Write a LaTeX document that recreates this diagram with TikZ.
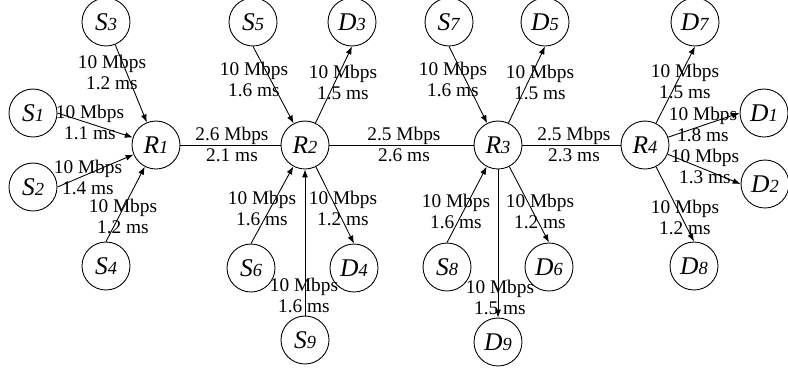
\documentclass[tikz,border=0pt]{standalone}
\usepackage{fontspec}
\setmainfont{Liberation Serif}
\usetikzlibrary{arrows.meta}
\newcommand{\nm}[2]{\textit{#1{\fontsize{10.5}{10.5}\selectfont #2}}}

\begin{document}
\begin{tikzpicture}[
  x=0.02cm, y=-0.02cm,
  station/.style={circle, draw, line width=0.5pt, minimum size=0.96cm, inner sep=0pt, font=\fontsize{14.5}{16}\selectfont},
  delay/.style={align=center, inner sep=0pt, font=\fontsize{11}{12}\selectfont},
  link/.style={line width=0.5pt},
  arrow/.style={-{Latex[length=4.5pt, width=3.4pt]}, line width=0.5pt}
]
\useasboundingbox (0,0) rectangle (788,373);

\node[station] (S3) at (106,22) {\nm{S}{3}};
\node[station] (S1) at (33,113) {\nm{S}{1}};
\node[station] (R1) at (156,145) {\nm{R}{1}};
\node[station] (S2) at (33,187) {\nm{S}{2}};
\node[station] (S4) at (106,266) {\nm{S}{4}};

\node[station] (S5) at (253,22) {\nm{S}{5}};
\node[station] (D3) at (352,22) {\nm{D}{3}};
\node[station] (R2) at (305,145) {\nm{R}{2}};
\node[station] (S6) at (251,268) {\nm{S}{6}};
\node[station] (D4) at (354,268) {\nm{D}{4}};
\node[station] (S9) at (305,340) {\nm{S}{9}};

\node[station] (S7) at (449,22) {\nm{S}{7}};
\node[station] (D5) at (545,22) {\nm{D}{5}};
\node[station] (R3) at (498,145) {\nm{R}{3}};
\node[station] (S8) at (447,267) {\nm{S}{8}};
\node[station] (D6) at (549,267) {\nm{D}{6}};
\node[station] (D9) at (498,342) {\nm{D}{9}};

\node[station] (D7) at (695,22) {\nm{D}{7}};
\node[station] (D1) at (764,113) {\nm{D}{1}};
\node[station] (R4) at (645,145) {\nm{R}{4}};
\node[station] (D2) at (765,184) {\nm{D}{2}};
\node[station] (D8) at (694,266) {\nm{D}{8}};

\node[delay] (lS3) at (112,72) {10 Mbps\\1.2 ms};
\node[delay] (lS1) at (90,122) {10 Mbps\\1.1 ms};
\node[delay] (lS2) at (88,177) {10 Mbps\\1.4 ms};
\node[delay] (lS4) at (123,216) {10 Mbps\\1.2 ms};
\node[delay] (lR12) at (232,144) {2.6 Mbps\\2.1 ms};
\node[delay] (lS5) at (254,79) {10 Mbps\\1.6 ms};
\node[delay] (lD3) at (343,82) {10 Mbps\\1.5 ms};
\node[delay] (lS6) at (262,208) {10 Mbps\\1.6 ms};
\node[delay] (lD4) at (343,208) {10 Mbps\\1.2 ms};
\node[delay] (lS9) at (304,295) {10 Mbps\\1.6 ms};
\node[delay] (lR23) at (404,144) {2.5 Mbps\\2.6 ms};
\node[delay] (lS7) at (453,79) {10 Mbps\\1.6 ms};
\node[delay] (lD5) at (540,82) {10 Mbps\\1.5 ms};
\node[delay] (lS8) at (456,211) {10 Mbps\\1.6 ms};
\node[delay] (lD6) at (540,211) {10 Mbps\\1.2 ms};
\node[delay] (lD9) at (500,297) {10 Mbps\\1.5 ms};
\node[delay] (lR34) at (574,144) {2.5 Mbps\\2.3 ms};
\node[delay] (lD7) at (685,81) {10 Mbps\\1.5 ms};
\node[delay] (lD1) at (703,124) {10 Mbps\\1.8 ms};
\node[delay] (lD2) at (705,166) {10 Mbps\\1.3 ms};
\node[delay] (lD8) at (685,217) {10 Mbps\\1.2 ms};

\draw[arrow] (S3) -- (R1);
\draw[arrow] (S1.east) -- (R1);
\draw[arrow] (S2.east) -- (R1);
\draw[arrow] (S4.north) -- (R1);
\draw[link] (R1) -- (R2);
\draw[arrow] (S5.south) -- (R2);
\draw[arrow] (R2) -- (D3.south);
\draw[arrow] (S6.north) -- (R2);
\draw[arrow] (R2) -- (D4.north);
\draw[arrow] (S9) -- (R2);
\draw[link] (R2) -- (R3);
\draw[arrow] (S7.south) -- (R3);
\draw[arrow] (R3) -- (D5.south);
\draw[arrow] (S8.north) -- (R3);
\draw[arrow] (R3) -- (D6.north);
\draw[arrow] (R3) -- (D9);
\draw[link] (R3) -- (R4);
\draw[arrow] (R4) -- (D7.south);
\draw[arrow] (R4) -- (D1.west);
\draw[arrow] (R4) -- (D2.west);
\draw[arrow] (R4) -- (D8.north);

\end{tikzpicture}
\end{document}
